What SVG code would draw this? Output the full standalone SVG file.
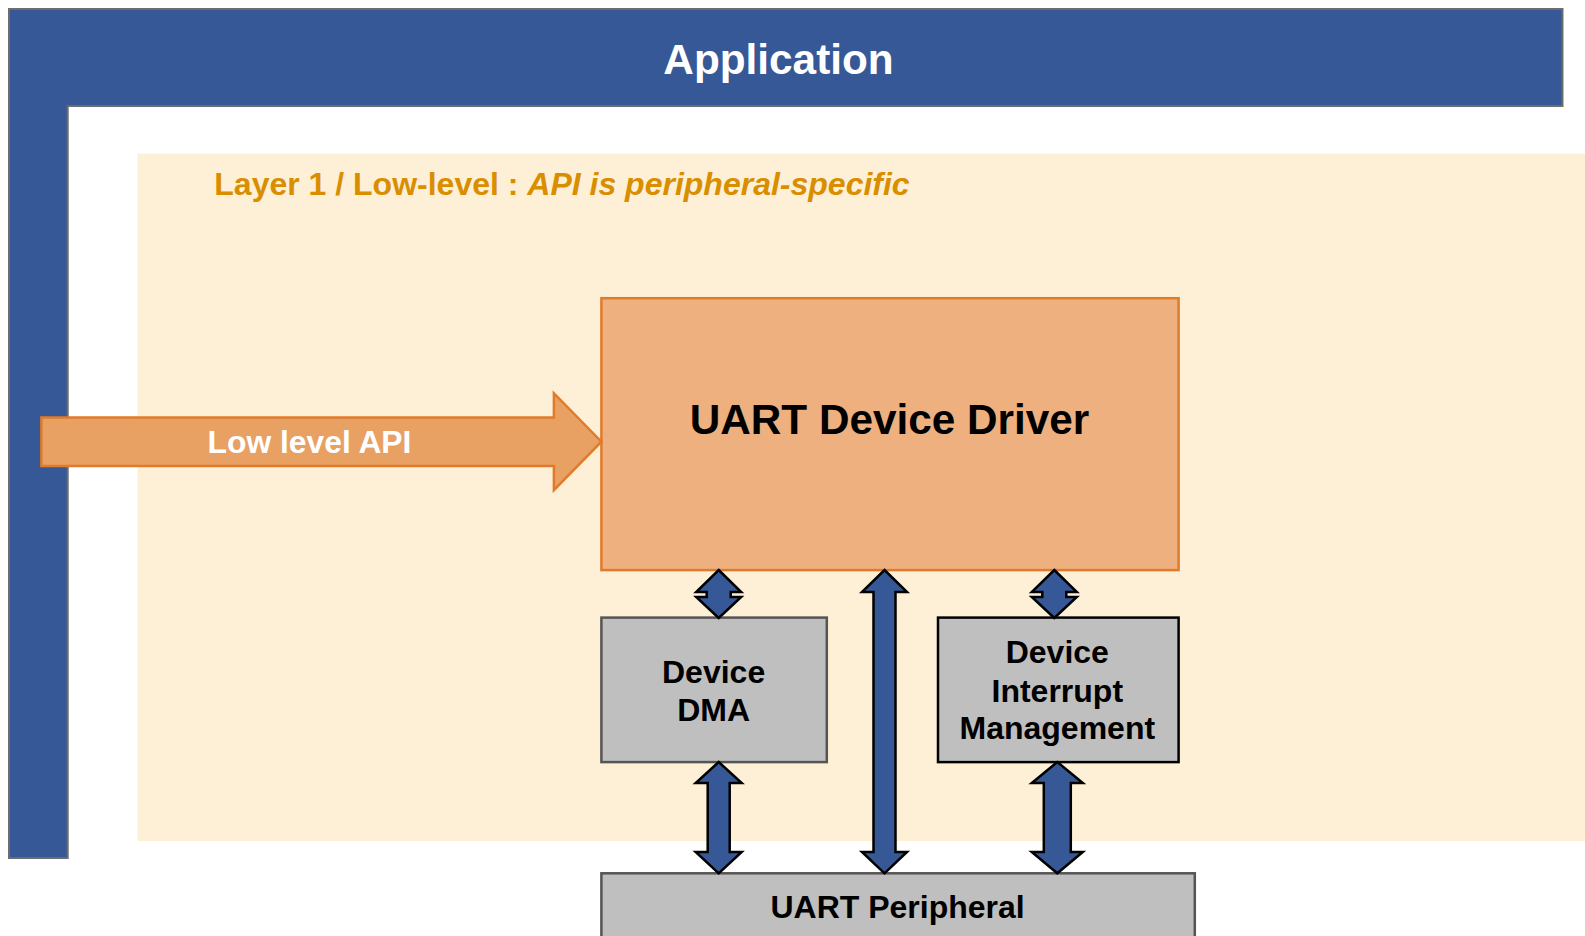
<svg xmlns="http://www.w3.org/2000/svg" width="1585" height="936" viewBox="0 0 1585 936">
<style>
text{font-family:"Liberation Sans",Arial,sans-serif;font-weight:bold;text-anchor:middle}
.gbox{fill:#BFBFBF}
.dbl{fill:#375897;stroke:#000;stroke-width:2.5;stroke-linejoin:miter}
.lbl{font-size:32px;fill:#000}
</style>
<rect width="1585" height="936" fill="#fff"/>
<g id="application">
<path d="M9,9 H1562.5 V106 H67.7 V858 H9 Z" fill="#375897" stroke="#6d6d6d" stroke-width="2"/>
<text x="778.5" y="74" font-size="42.3" fill="#fff">Application</text>
</g>
<g id="layer1">
<rect x="137.5" y="153.6" width="1448" height="687.4" fill="#FEF0D6"/>
<text x="214.3" y="195.3" font-size="32" fill="#D98E00" style="text-anchor:start">Layer 1 / Low-level : <tspan font-style="italic">API is peripheral-specific</tspan></text>
</g>
<g id="uart-driver">
<rect x="601.4" y="298.2" width="577.2" height="271.9" fill="#EEB07F" stroke="#E07B2B" stroke-width="2.5"/>
<text x="889.5" y="433.8" font-size="42.3">UART Device Driver</text>
</g>
<g id="low-level-api">
<path d="M41.4,417.5 H553.9 V393.2 L601.4,441.7 L553.9,490.2 V466 H41.4 Z" fill="#E9A063" stroke="#E07B2B" stroke-width="2.5"/>
<text x="309.5" y="453" font-size="31.8" fill="#fff">Low level API</text>
</g>
<g id="device-dma">
<rect class="gbox" x="601.4" y="617.6" width="225.4" height="144.5" stroke="#555" stroke-width="2.5"/>
<text class="lbl" x="713.6" y="682.5">Device</text>
<text class="lbl" x="713.6" y="720.8">DMA</text>
</g>
<g id="device-interrupt">
<rect class="gbox" x="938" y="617.6" width="240.6" height="144.5" stroke="#000" stroke-width="2.5"/>
<text class="lbl" x="1057.3" y="663.3">Device</text>
<text class="lbl" x="1057.3" y="701.6">Interrupt</text>
<text class="lbl" x="1057.3" y="739">Management</text>
</g>
<g id="uart-peripheral">
<rect class="gbox" x="601.4" y="873.3" width="593.4" height="80" stroke="#555" stroke-width="2.5"/>
<text class="lbl" x="897.6" y="918">UART Peripheral</text>
</g>
<g id="connectors">
<path class="dbl" d="M718.7,570 L741.2,592 H730.7 V597 H741.2 L718.7,618 L696.2,597 H706.7 V592 H696.2 Z"/>
<path class="dbl" d="M1054.3,570 L1076.8,592 H1066.3 V597 H1076.8 L1054.3,618 L1031.8,597 H1042.3 V592 H1031.8 Z"/>
<path class="dbl" d="M884.5,570 L907,592 H895.5 V852 H907 L884.5,873.3 L862,852 H873.5 V592 H862 Z"/>
<path class="dbl" d="M718.7,762 L741.7,783 H729.7 V852 H741.7 L718.7,873.3 L695.7,852 H707.7 V783 H695.7 Z"/>
<path class="dbl" d="M1057.3,762 L1082.8,783 H1070.8 V852 H1082.8 L1057.3,873.3 L1031.8,852 H1043.8 V783 H1031.8 Z"/>
</g>
</svg>
